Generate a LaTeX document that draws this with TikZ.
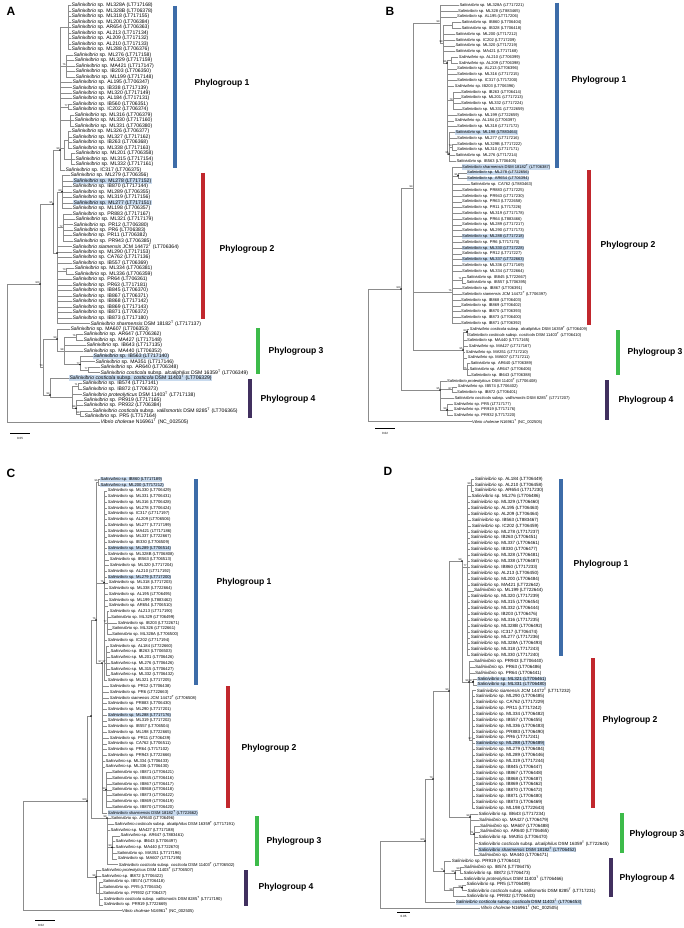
\documentclass[tikz,border=0pt]{standalone}
\usepackage{fontspec}
\setmainfont{Liberation Sans}
\definecolor{pgblue}{HTML}{3D6CA8}
\definecolor{pgred}{HTML}{C1272D}
\definecolor{pggreen}{HTML}{3DBB4A}
\definecolor{pgpurple}{HTML}{41305F}
\definecolor{hlblue}{HTML}{C8DAEE}
\definecolor{branch}{HTML}{8C8C8C}
\newcommand{\salsp}[1]{\textit{Salinivibrio} sp. #1}
\newcommand{\salsn}[2]{\textit{Salinivibrio #1} #2}
\newcommand{\salcos}[2]{\textit{Salinivibrio costicola} subsp. \textit{#1} #2}
\newcommand{\tsup}{\textsuperscript{T}}
\newcommand{\vib}{\textit{Vibrio cholerae} N16961\tsup{} (NC\_002505)}
\newcommand{\ya}[1]{5.5+(#1-1)*5.48}
\newcommand{\yb}[1]{5.3+(#1-1)*5.78}
\newcommand{\yc}[1]{479.3+(#1-1)*5.75}
\newcommand{\yd}[1]{479+(#1-1)*5.88}
\tikzset{
  leaf/.style={anchor=west, inner sep=0.3pt},
  nl/.style={},
  hl/.style={fill=hlblue},
  br/.style={draw=branch, line width=0.45pt},
  bs/.style={anchor=south east, inner sep=0.2pt, font=\fontsize{2.6}{3}\selectfont},
  pgbar/.style={line width=3.3pt},
  pglab/.style={anchor=west, font=\bfseries\fontsize{8.6}{10}\selectfont},
  panel/.style={font=\bfseries\fontsize{12}{14}\selectfont},
  sclab/.style={font=\fontsize{3}{4}\selectfont, inner sep=0.3pt},
}
\begin{document}
\begin{tikzpicture}[x=1pt, y=-1pt]
  \useasboundingbox[fill=white] (0,0) rectangle (684,928);

  % ---------------- panel A ----------------
  \node[panel] (alab) at (11,11) {A};
  \coordinate (aroot) at (7,353);
  \coordinate (a100) at (40,284);
  \coordinate (a95) at (53,204);
  \coordinate (apg1) at (60,150);
  \coordinate (apg1a) at (68,{\ya{5}});
  \coordinate (apg1b) at (66,{\ya{12}});
  \coordinate (apg1c) at (68,{\ya{19.5}});
  \coordinate (apg1d) at (70,{\ya{22}});
  \coordinate (apg1e) at (64,148);
  \coordinate (apg1f) at (68,{\ya{25.5}});
  \coordinate (apg1g) at (71,{\ya{29}});
  \coordinate (apg2) at (57,253);
  \coordinate (apg2a) at (62,{\ya{35}});
  \coordinate (apg2b) at (63,{\ya{41.5}});
  \coordinate (apg2c) at (66,{\ya{49.5}});
  \coordinate (a70) at (43,367);
  \coordinate (apg3) at (57,339);
  \coordinate (apg3a) at (64,351);
  \coordinate (apg3b) at (76,{\ya{61.5}});
  \coordinate (apg3c) at (80,{\ya{66.5}});
  \coordinate (apg3d) at (88,{\ya{67.5}});
  \coordinate (apg4) at (50,395);
  \coordinate (apg4a) at (72,{\ya{72.5}});
  \coordinate (apg4b) at (78,{\ya{70.5}});
  \coordinate (apg4c) at (76,{\ya{74.5}});
  \coordinate (apg4d) at (80,{\ya{75.5}});
  \foreach \p/\c in {aroot/a100, a100/a95, a100/a70, a95/apg1, a95/apg2,
      apg1/apg1a, apg1/apg1b, apg1/apg1c, apg1/apg1d, apg1/apg1e, apg1e/apg1f, apg1e/apg1g,
      apg2/apg2a, apg2/apg2b, apg2/apg2c, a70/apg3, a70/apg4, apg3/apg3a, apg3a/apg3b,
      apg3a/apg3c, apg3c/apg3d, apg4/apg4a, apg4a/apg4b, apg4a/apg4c, apg4c/apg4d}
    \draw[br] (\p) |- (\c);
  \begin{scope}[font=\fontsize{5.1}{6}\selectfont]
  \foreach \p/\lx/\s/\t [count=\i] in {
      apg1a/71/nl/{\salsp{ML328A (LT717168)}},
      apg1a/71/nl/{\salsp{ML328B (LT706378)}},
      apg1a/71/nl/{\salsp{ML318 (LT717155)}},
      apg1a/71/nl/{\salsp{ML200 (LT706384)}},
      apg1a/71/nl/{\salsp{AR654 (LT706363)}},
      apg1a/71/nl/{\salsp{AL213 (LT717134)}},
      apg1a/71/nl/{\salsp{AL209 (LT717132)}},
      apg1a/71/nl/{\salsp{AL210 (LT717133)}},
      apg1a/71/nl/{\salsp{ML288 (LT706376)}},
      apg1b/73/nl/{\salsp{ML276 (LT717158)}},
      apg1b/74/nl/{\salsp{ML329 (LT717159)}},
      apg1b/75/nl/{\salsp{MA421 (LT717147)}},
      apg1b/75/nl/{\salsp{IB203 (LT706350)}},
      apg1b/75/nl/{\salsp{ML199 (LT717148)}},
      apg1/72/nl/{\salsp{AL195 (LT706347)}},
      apg1/72/nl/{\salsp{IB338 (LT717139)}},
      apg1/72/nl/{\salsp{ML320 (LT717149)}},
      apg1/72/nl/{\salsp{AL184 (LT717131)}},
      apg1c/72/nl/{\salsp{IB560 (LT706351)}},
      apg1c/72/nl/{\salsp{IC202 (LT706374)}},
      apg1d/74/nl/{\salsp{ML316 (LT706379)}},
      apg1d/74/nl/{\salsp{ML330 (LT717160)}},
      apg1d/74/nl/{\salsp{ML331 (LT706380)}},
      apg1f/71/nl/{\salsp{ML326 (LT706377)}},
      apg1f/72/nl/{\salsp{ML327 (LT717162)}},
      apg1f/72/nl/{\salsp{IB263 (LT706368)}},
      apg1f/72/nl/{\salsp{ML338 (LT717163)}},
      apg1g/75/nl/{\salsp{ML201 (LT706358)}},
      apg1g/75/nl/{\salsp{ML315 (LT717154)}},
      apg1g/75/nl/{\salsp{ML332 (LT717161)}},
      apg1/65/nl/{\salsp{IC317 (LT706375)}},
      apg2a/70/nl/{\salsp{ML279 (LT706356)}},
      apg2a/73/hl/{\salsp{ML278 (LT717152)}},
      apg2a/72/nl/{\salsp{IB870 (LT717144)}},
      apg2a/72/nl/{\salsp{ML289 (LT706355)}},
      apg2a/72/nl/{\salsp{ML319 (LT717156)}},
      apg2a/73/hl/{\salsp{ML277 (LT717151)}},
      apg2a/72/nl/{\salsp{ML198 (LT706357)}},
      apg2b/72/nl/{\salsp{PR883 (LT717167)}},
      apg2b/75/nl/{\salsp{ML321 (LT717179)}},
      apg2b/73/nl/{\salsp{PR12 (LT706380)}},
      apg2b/73/nl/{\salsp{PR6 (LT706383)}},
      apg2b/72/nl/{\salsp{PR11 (LT706382)}},
      apg2b/73/nl/{\salsp{PR943 (LT706385)}},
      apg2/72/nl/{\salsn{siamensis}{JCM 14472\tsup{} (LT706364)}},
      apg2/72/nl/{\salsp{ML290 (LT717153)}},
      apg2/72/nl/{\salsp{CA762 (LT717136)}},
      apg2/72/nl/{\salsp{IB557 (LT706369)}},
      apg2c/74/nl/{\salsp{ML334 (LT706381)}},
      apg2c/74/nl/{\salsp{ML336 (LT706359)}},
      apg2/72/nl/{\salsp{PR64 (LT706361)}},
      apg2/72/nl/{\salsp{PR63 (LT717181)}},
      apg2/72/nl/{\salsp{IB845 (LT706370)}},
      apg2/72/nl/{\salsp{IB867 (LT706371)}},
      apg2/72/nl/{\salsp{IB868 (LT717142)}},
      apg2/72/nl/{\salsp{IB869 (LT717143)}},
      apg2/72/nl/{\salsp{IB871 (LT706372)}},
      apg2/72/nl/{\salsp{IB873 (LT717180)}},
      apg2/90/nl/{\salsn{sharmensis}{DSM 18182\tsup{} (LT717137)}},
      apg3/70/nl/{\salsp{MA607 (LT706353)}},
      apg3b/83/nl/{\salsp{AR647 (LT706362)}},
      apg3b/83/nl/{\salsp{MA427 (LT717148)}},
      apg3a/86/nl/{\salsp{IB643 (LT717135)}},
      apg3a/83/nl/{\salsp{MA440 (LT706352)}},
      apg3c/93/hl/{\salsp{IB563 (LT717140)}},
      apg3c/95/nl/{\salsp{MA351 (LT717146)}},
      apg3d/100/nl/{\salsp{AR640 (LT706348)}},
      apg3d/100/nl/{\salcos{alcaliphilus}{DSM 16359\tsup{} (LT706349)}},
      apg4/69/hl/{\salcos{costicola}{DSM 11403\tsup{} (LT706329)}},
      apg4b/82/nl/{\salsp{IB574 (LT717141)}},
      apg4b/82/nl/{\salsp{IB872 (LT706373)}},
      apg4a/82/nl/{\salsn{proteolyticus}{DSM 11403\tsup{} (LT717138)}},
      apg4c/83/nl/{\salsp{PR919 (LT717165)}},
      apg4c/83/nl/{\salsp{PR932 (LT706384)}},
      apg4d/92/nl/{\salcos{vallismortis}{DSM 8285\tsup{} (LT706365)}},
      apg4d/84/nl/{\salsp{PR5 (LT717164)}},
      aroot/100/nl/{\vib}}{
    \node[leaf,\s] (la\i) at (\lx,{\ya{\i}}) {\t};
    \draw[br] (\p) |- (la\i.west);
  }
  \end{scope}
  \foreach \c/\v in {a100/100, a95/95, apg1/99, apg1b/76, apg1c/77, apg2a/89, apg2b/72,
      apg2c/70, a70/70, apg3/99, apg3a/98, apg3b/76, apg3c/77, apg3d/77, apg4/94,
      apg4b/71, apg4c/99, apg4d/99}
    \node[bs] at (\c) {\v};
  \foreach \c in {a100, a95, apg1, apg2, apg2a, apg3, apg3c, apg4, apg4c}
    \fill (\c) circle (0.9pt);
  \draw[pgbar, pgblue] (175,6) -- (175,168);
  \draw[pgbar, pgred] (203,173) -- (203,319);
  \draw[pgbar, pggreen] (258,328) -- (258,374);
  \draw[pgbar, pgpurple] (250,379) -- (250,418);
  \node[pglab] (apg1lab) at (191,83) {Phylogroup 1};
  \node[pglab] (apg2lab) at (216,249) {Phylogroup 2};
  \node[pglab] (apg3lab) at (265,351) {Phylogroup 3};
  \node[pglab] (apg4lab) at (257,399) {Phylogroup 4};
  \draw (10,433) -- (30,433);
  \node[sclab] (ascale) at (20,438) {0.05};

  % ---------------- panel B ----------------
  \node[panel] (blab) at (390,11) {B};
  \coordinate (broot) at (368,355);
  \coordinate (b100) at (401,289);
  \coordinate (b94) at (413,188);
  \coordinate (bpg1) at (440,23);
  \coordinate (bpg1a) at (452,{\yb{4.5}});
  \coordinate (bpg1b) at (443,43);
  \coordinate (bpg1c) at (447,63);
  \coordinate (bpg1d) at (451,{\yb{10.5}});
  \coordinate (bpg1e) at (453,{\yb{17.5}});
  \coordinate (bpg1f) at (449,154);
  \coordinate (bpg1g) at (452,{\yb{25.5}});
  \coordinate (bpg2) at (452,292);
  \coordinate (bpg2a) at (458,{\yb{30.5}});
  \coordinate (bpg2b) at (462,{\yb{48.5}});
  \coordinate (bpg3) at (463,350);
  \coordinate (bpg3a) at (467,{\yb{57.5}});
  \coordinate (bpg3b) at (467,{\yb{64}});
  \coordinate (b95) at (440,390);
  \coordinate (bpg4a) at (452,{\yb{67.5}});
  \coordinate (bpg4b) at (447,{\yb{71}});
  \foreach \p/\c in {broot/b100, b100/b94, b100/b95, b94/bpg1, b94/bpg2, b94/bpg3,
      bpg1/bpg1b, bpg1b/bpg1a, bpg1b/bpg1c, bpg1c/bpg1d, bpg1c/bpg1e, bpg1c/bpg1f,
      bpg1f/bpg1g, bpg2/bpg2a, bpg2/bpg2b, bpg3/bpg3a, bpg3/bpg3b, b95/bpg4a, b95/bpg4b}
    \draw[br] (\p) |- (\c);
  \begin{scope}[font=\fontsize{4.05}{5}\selectfont]
  \foreach \p/\lx/\s/\t [count=\i] in {
      bpg1/459/nl/{\salsp{ML328A (LT717221)}},
      bpg1/457.7/nl/{\salsp{ML328 (LT883465)}},
      bpg1/456.7/nl/{\salsp{AL195 (LT717206)}},
      bpg1a/461/nl/{\salsp{IB860 (LT706404)}},
      bpg1a/461/nl/{\salsp{IB328 (LT706418)}},
      bpg1b/455/nl/{\salsp{ML200 (LT717212)}},
      bpg1b/455/nl/{\salsp{IC202 (LT717209)}},
      bpg1b/455/nl/{\salsp{ML320 (LT717219)}},
      bpg1b/455/nl/{\salsp{MA421 (LT717168)}},
      bpg1d/458.3/nl/{\salsp{AL210 (LT706399)}},
      bpg1d/458.3/nl/{\salsp{AL209 (LT706398)}},
      bpg1c/456.7/nl/{\salsp{AL213 (LT706396)}},
      bpg1c/456.7/nl/{\salsp{ML316 (LT717215)}},
      bpg1c/456.7/nl/{\salsp{IC317 (LT717200)}},
      bpg1c/454.3/nl/{\salsp{IB203 (LT706396)}},
      bpg1e/460.7/nl/{\salsp{IB263 (LT706414)}},
      bpg1e/460.7/nl/{\salsp{ML201 (LT717213)}},
      bpg1e/460.7/nl/{\salsp{ML332 (LT717224)}},
      bpg1e/461.7/nl/{\salsp{ML331 (LT722659)}},
      bpg1c/456.7/nl/{\salsp{ML199 (LT722659)}},
      bpg1c/454.3/nl/{\salsp{AL184 (LT706397)}},
      bpg1c/456.7/nl/{\salsp{ML318 (LT717172)}},
      bpg1f/455/hl/{\salsp{ML198 (LT883464)}},
      bpg1f/456.7/nl/{\salsp{ML277 (LT717216)}},
      bpg1g/456.7/nl/{\salsp{ML329B (LT717222)}},
      bpg1g/456.7/nl/{\salsp{ML310 (LT717171)}},
      bpg1f/455/nl/{\salsp{ML276 (LT717214)}},
      bpg1f/456/nl/{\salsp{IB563 (LT706405)}},
      bpg2/461.7/hl/{\salsn{sharmensis}{DSM 18182\tsup{} (LT706387)}},
      bpg2a/466.7/hl/{\salsp{ML278 (LT722656)}},
      bpg2a/466.7/hl/{\salsp{AR654 (LT706394)}},
      bpg2/470/nl/{\salsp{CA762 (LT883463)}},
      bpg2/461.7/nl/{\salsp{PR883 (LT717225)}},
      bpg2/461.7/nl/{\salsp{PR943 (LT717230)}},
      bpg2/461.7/nl/{\salsp{PR63 (LT722658)}},
      bpg2/461.7/nl/{\salsp{PR11 (LT717226)}},
      bpg2/461.7/nl/{\salsp{ML319 (LT717178)}},
      bpg2/461.7/nl/{\salsp{PR64 (LT883466)}},
      bpg2/461.7/nl/{\salsp{ML289 (LT717217)}},
      bpg2/461.7/nl/{\salsp{ML290 (LT717173)}},
      bpg2/461.7/hl/{\salsp{ML288 (LT717218)}},
      bpg2/461.7/nl/{\salsp{PR6 (LT717170)}},
      bpg2/461.7/hl/{\salsp{ML330 (LT717228)}},
      bpg2/461.7/nl/{\salsp{PR12 (LT717227)}},
      bpg2/461.7/hl/{\salsp{ML337 (LT722663)}},
      bpg2/461.7/nl/{\salsp{ML336 (LT717169)}},
      bpg2/461.7/nl/{\salsp{ML334 (LT722664)}},
      bpg2b/466/nl/{\salsp{IB845 (LT722667)}},
      bpg2b/466/nl/{\salsp{IB557 (LT706395)}},
      bpg2/461.7/nl/{\salsp{IB867 (LT706391)}},
      bpg2/461.7/nl/{\salsn{siamensis}{JCM 14472\tsup{} (LT706397)}},
      bpg2/460.7/nl/{\salsp{IB868 (LT706403)}},
      bpg2/460.7/nl/{\salsp{IB869 (LT706402)}},
      bpg2/460.7/nl/{\salsp{IB870 (LT706393)}},
      bpg2/460.7/nl/{\salsp{IB873 (LT706400)}},
      bpg2/460.7/nl/{\salsp{IB871 (LT706392)}},
      bpg3a/469.3/nl/{\salcos{alcaliphilus}{DSM 16359\tsup{} (LT706409)}},
      bpg3a/467.7/nl/{\salcos{costicola}{DSM 11403\tsup{} (LT706410)}},
      bpg3/466.7/nl/{\salsp{MA440 (LT717165)}},
      bpg3/468.3/nl/{\salsp{MA427 (LT717167)}},
      bpg3/465.3/nl/{\salsp{MA351 (LT717210)}},
      bpg3/467.3/nl/{\salsp{MA607 (LT717211)}},
      bpg3b/470/nl/{\salsp{AR640 (LT706389)}},
      bpg3b/469/nl/{\salsp{AR647 (LT706406)}},
      bpg3b/470.7/nl/{\salsp{IB643 (LT706388)}},
      b95/446.7/nl/{\salsn{proteolyticus}{DSM 11403\tsup{} (LT706408)}},
      bpg4a/457.3/nl/{\salsp{IB574 (LT706402)}},
      bpg4a/456.7/nl/{\salsp{IB872 (LT706401)}},
      b95/454/nl/{\salcos{vallismortis}{DSM 8285\tsup{} (LT717207)}},
      bpg4b/453.3/nl/{\salsp{PR5 (LT717177)}},
      bpg4b/453.3/nl/{\salsp{PR919 (LT717176)}},
      bpg4b/453.3/nl/{\salsp{PR932 (LT717220)}},
      broot/471.7/nl/{\vib}}{
    \node[leaf,\s] (lb\i) at (\lx,{\yb{\i}}) {\t};
    \draw[br] (\p) |- (lb\i.west);
  }
  \end{scope}
  \foreach \c/\v in {b100/100, b94/94, bpg1/99, bpg1b/99, bpg1c/86, bpg1e/79, bpg1f/95,
      bpg1g/73, bpg2/76, bpg2a/96, bpg2b/71, bpg3/95, bpg3a/83, bpg3b/75, b95/95,
      bpg4a/87, bpg4b/99}
    \node[bs] at (\c) {\v};
  \foreach \c in {b100, bpg1c, bpg1f, bpg2a, bpg3, bpg3a, b95, bpg4b}
    \fill (\c) circle (0.9pt);
  \draw[pgbar, pgblue] (557,3) -- (557,168);
  \draw[pgbar, pgred] (589,170) -- (589,325);
  \draw[pgbar, pggreen] (618,330) -- (618,375);
  \draw[pgbar, pgpurple] (607,380) -- (607,420);
  \node[pglab] (bpg1lab) at (568,80) {Phylogroup 1};
  \node[pglab] (bpg2lab) at (597,245) {Phylogroup 2};
  \node[pglab] (bpg3lab) at (624,352) {Phylogroup 3};
  \node[pglab] (bpg4lab) at (615,400) {Phylogroup 4};
  \draw (375,428) -- (395,428);
  \node[sclab] (bscale) at (385,433) {0.02};

  % ---------------- panel C ----------------
  \node[panel] (clab) at (11,473) {C};
  \coordinate (croot) at (23,856);
  \coordinate (c100) at (87,801);
  \coordinate (cA) at (91,716);
  \coordinate (c76) at (96,620);
  \coordinate (cpg1a) at (98,{\yc{1.5}});
  \coordinate (cpg1) at (104,{\yc{19}});
  \coordinate (cpg1b) at (107,{\yc{26}});
  \coordinate (cpg1c) at (106,{\yc{33}});
  \coordinate (c97) at (102,663);
  \coordinate (cpg2a) at (106,{\yc{55}});
  \coordinate (c99) at (107,818);
  \coordinate (cpg3a) at (112,{\yc{65}});
  \coordinate (c98) at (96,877);
  \coordinate (cpg4a) at (99,{\yc{73}});
  \foreach \p/\c in {croot/c100, c100/cA, c100/c98, cA/c76, cA/c99, c76/cpg1a, c76/cpg1,
      c76/c97, cpg1/cpg1b, cpg1/cpg1c, c97/cpg2a, c99/cpg3a, c98/cpg4a}
    \draw[br] (\p) |- (\c);
  \begin{scope}[font=\fontsize{4.15}{5}\selectfont]
  \foreach \p/\lx/\s/\t [count=\i] in {
      cpg1a/100/hl/{\salsp{IB860 (LT717189)}},
      cpg1a/100/hl/{\salsp{ML200 (LT717212)}},
      cpg1/107.3/nl/{\salsp{ML330 (LT706429)}},
      cpg1/107.3/nl/{\salsp{ML331 (LT706431)}},
      cpg1/107.3/nl/{\salsp{ML316 (LT706428)}},
      cpg1/107.3/nl/{\salsp{ML278 (LT706424)}},
      cpg1/107.3/nl/{\salsp{IC317 (LT717197)}},
      cpg1/107.3/nl/{\salsp{AL209 (LT706506)}},
      cpg1/107.3/nl/{\salsp{ML277 (LT717199)}},
      cpg1/107.3/nl/{\salsp{MA421 (LT717186)}},
      cpg1/107.3/nl/{\salsp{ML337 (LT722667)}},
      cpg1/107.3/nl/{\salsp{IB330 (LT706509)}},
      cpg1/107.3/hl/{\salsp{ML289 (LT706514)}},
      cpg1/107.3/nl/{\salsp{ML328B (LT706808)}},
      cpg1/109.3/nl/{\salsp{IB563 (LT706513)}},
      cpg1/109.3/nl/{\salsp{ML320 (LT717204)}},
      cpg1/107.3/nl/{\salsp{AL210 (LT717192)}},
      cpg1/107.3/hl/{\salsp{ML279 (LT717200)}},
      cpg1/108.3/nl/{\salsp{ML318 (LT717203)}},
      cpg1/108.3/nl/{\salsp{ML338 (LT722664)}},
      cpg1/108.3/nl/{\salsp{AL195 (LT706495)}},
      cpg1/108.3/nl/{\salsp{ML199 (LT883462)}},
      cpg1/108.3/nl/{\salsp{AR654 (LT706510)}},
      cpg1b/109.3/nl/{\salsp{AL213 (LT717190)}},
      cpg1b/110.7/nl/{\salsp{ML329 (LT706499)}},
      cpg1b/117.3/nl/{\salsp{IB203 (LT722671)}},
      cpg1b/111.7/nl/{\salsp{ML326 (LT722661)}},
      cpg1b/111.7/nl/{\salsp{ML328A (LT706500)}},
      cpg1/107.3/nl/{\salsp{IC202 (LT717194)}},
      cpg1c/109.3/nl/{\salsp{AL184 (LT722660)}},
      cpg1c/110/nl/{\salsp{IB263 (LT706503)}},
      cpg1c/110/nl/{\salsp{ML201 (LT706426)}},
      cpg1c/110/nl/{\salsp{ML276 (LT706426)}},
      cpg1c/110/nl/{\salsp{ML315 (LT706427)}},
      cpg1c/110/nl/{\salsp{ML332 (LT706432)}},
      cpg1/107.3/nl/{\salsp{ML321 (LT717205)}},
      c97/109.3/nl/{\salsp{PR12 (LT706438)}},
      c97/109.3/nl/{\salsp{PR6 (LT722663)}},
      c97/109.3/nl/{\salsn{siamensis}{JCM 14472\tsup{} (LT706508)}},
      c97/107.3/nl/{\salsp{PR883 (LT706430)}},
      c97/107.3/nl/{\salsp{ML290 (LT717201)}},
      c97/107.3/hl/{\salsp{ML288 (LT717176)}},
      c97/107.3/nl/{\salsp{ML319 (LT717202)}},
      c97/107.3/nl/{\salsp{IB557 (LT706504)}},
      c97/107.3/nl/{\salsp{ML198 (LT722665)}},
      c97/109.3/nl/{\salsp{PR11 (LT706439)}},
      c97/107.3/nl/{\salsp{CA762 (LT706511)}},
      c97/107.3/nl/{\salsp{PR64 (LT717102)}},
      c97/107.3/nl/{\salsp{PR943 (LT722666)}},
      c97/105/nl/{\salsp{ML334 (LT706433)}},
      c97/105/nl/{\salsp{ML336 (LT706430)}},
      cpg2a/111.7/nl/{\salsp{IB871 (LT706421)}},
      cpg2a/111.7/nl/{\salsp{IB845 (LT706416)}},
      cpg2a/111.7/nl/{\salsp{IB867 (LT706417)}},
      cpg2a/111.7/nl/{\salsp{IB868 (LT706418)}},
      cpg2a/111.7/nl/{\salsp{IB873 (LT706422)}},
      cpg2a/111.7/nl/{\salsp{IB869 (LT706419)}},
      cpg2a/111.7/nl/{\salsp{IB870 (LT706420)}},
      c97/107.3/hl/{\salsn{sharmensis}{DSM 18182\tsup{} (LT722662)}},
      c99/110.7/nl/{\salsp{AR640 (LT706496)}},
      c99/114/nl/{\salcos{alcaliphilus}{DSM 16359\tsup{} (LT717191)}},
      c99/110/nl/{\salsp{MA427 (LT717188)}},
      cpg3a/120/nl/{\salsp{AR647 (LT883461)}},
      cpg3a/115/nl/{\salsp{IB643 (LT706497)}},
      cpg3a/115/nl/{\salsp{MA440 (LT722670)}},
      cpg3a/116.7/nl/{\salsp{MA351 (LT717196)}},
      cpg3a/117.3/nl/{\salsp{MA607 (LT717195)}},
      c99/118.3/nl/{\salcos{costicola}{DSM 11403\tsup{} (LT706502)}},
      c98/101/nl/{\salsn{proteolyticus}{DSM 11403\tsup{} (LT706507)}},
      c98/101/nl/{\salsp{IB872 (LT706422)}},
      cpg4a/102.7/nl/{\salsp{IB574 (LT706418)}},
      cpg4a/102.7/nl/{\salsp{PR5 (LT706434)}},
      cpg4a/102.7/nl/{\salsp{PR932 (LT706437)}},
      cpg4a/103.3/nl/{\salcos{vallismortis}{DSM 8285\tsup{} (LT717190)}},
      cpg4a/103.3/nl/{\salsp{PR919 (LT722669)}},
      croot/121.7/nl/{\vib}}{
    \node[leaf,\s] (lc\i) at (\lx,{\yc{\i}}) {\t};
    \draw[br] (\p) |- (lc\i.west);
  }
  \end{scope}
  \foreach \c/\v in {c100/100, c76/76, cpg1a/96, cpg1/76, cpg1b/77, cpg1c/97, c97/97,
      cpg2a/93, c99/99, cpg3a/93, c98/98}
    \node[bs] at (\c) {\v};
  \foreach \c in {c100, cA, c76, cpg1, c97, cpg2a, c99, cpg3a, c98}
    \fill (\c) circle (0.9pt);
  \draw[pgbar, pgblue] (196,479) -- (196,685);
  \draw[pgbar, pgred] (228,686) -- (228,808);
  \draw[pgbar, pggreen] (257,816) -- (257,866);
  \draw[pgbar, pgpurple] (246,870) -- (246,906);
  \node[pglab] (cpg1lab) at (213,582) {Phylogroup 1};
  \node[pglab] (cpg2lab) at (238,748) {Phylogroup 2};
  \node[pglab] (cpg3lab) at (263,841) {Phylogroup 3};
  \node[pglab] (cpg4lab) at (255,887) {Phylogroup 4};
  \draw (35,920) -- (55,920);
  \node[sclab] (cscale) at (41,925) {0.02};

  % ---------------- panel D ----------------
  \node[panel] (dlab) at (388,471) {D};
  \coordinate (droot) at (380,874.5);
  \coordinate (d100) at (425,841);
  \coordinate (d70) at (433,779);
  \coordinate (d99) at (449,691);
  \coordinate (d99b) at (462,561);
  \coordinate (dpg1) at (467,{\yd{16}});
  \coordinate (dpg1a) at (471,{\yd{2}});
  \coordinate (dpg2) at (469,682);
  \coordinate (dpg2a) at (473,{\yd{35.5}});
  \coordinate (dpg2b) at (472,740);
  \coordinate (dpg3) at (470,817);
  \coordinate (dpg3a) at (474,834);
  \coordinate (d71) at (444,871);
  \coordinate (dpg4a) at (455,{\yd{68}});
  \coordinate (dpg4b) at (460,{\yd{67.5}});
  \coordinate (dpg4c) at (453,{\yd{71}});
  \coordinate (dpg4d) at (462,{\yd{70.5}});
  \foreach \p/\c in {droot/d100, d100/d70, d70/d99, d70/d71, d99/d99b, d99/dpg3,
      d99b/dpg1, d99b/dpg2, dpg1/dpg1a, dpg2/dpg2a, dpg2/dpg2b, dpg3/dpg3a,
      d71/dpg4a, d71/dpg4c, dpg4a/dpg4b, dpg4c/dpg4d}
    \draw[br] (\p) |- (\c);
  \begin{scope}[font=\fontsize{4.5}{5.5}\selectfont]
  \foreach \p/\lx/\s/\t [count=\i] in {
      dpg1a/474.3/nl/{\salsp{AL184 (LT706449)}},
      dpg1a/474.3/nl/{\salsp{AL210 (LT706458)}},
      dpg1a/474.3/nl/{\salsp{AR654 (LT717230)}},
      dpg1/471/nl/{\salsp{ML276 (LT706486)}},
      dpg1/470.3/nl/{\salsp{ML329 (LT706460)}},
      dpg1/470.3/nl/{\salsp{AL195 (LT706463)}},
      dpg1/470.3/nl/{\salsp{AL209 (LT706464)}},
      dpg1/471.3/nl/{\salsp{IB563 (LT883467)}},
      dpg1/471.3/nl/{\salsp{IC202 (LT706459)}},
      dpg1/470.3/nl/{\salsp{ML278 (LT717237)}},
      dpg1/470.3/nl/{\salsp{IB263 (LT706451)}},
      dpg1/470.3/nl/{\salsp{ML337 (LT706461)}},
      dpg1/470.3/nl/{\salsp{IB330 (LT706477)}},
      dpg1/470.3/nl/{\salsp{ML328 (LT706481)}},
      dpg1/470.3/nl/{\salsp{ML338 (LT706487)}},
      dpg1/470.3/nl/{\salsp{IB860 (LT717233)}},
      dpg1/470.3/nl/{\salsp{AL213 (LT706450)}},
      dpg1/470.3/nl/{\salsp{ML200 (LT706484)}},
      dpg1/470.3/nl/{\salsp{MA421 (LT722642)}},
      dpg1/473.7/nl/{\salsp{ML199 (LT722644)}},
      dpg1/470.3/nl/{\salsp{ML320 (LT717239)}},
      dpg1/470.3/nl/{\salsp{ML315 (LT706454)}},
      dpg1/470.3/nl/{\salsp{ML332 (LT706444)}},
      dpg1/470.3/nl/{\salsp{IB203 (LT706476)}},
      dpg1/470.3/nl/{\salsp{ML316 (LT717235)}},
      dpg1/470.3/nl/{\salsp{ML328B (LT706492)}},
      dpg1/470.3/nl/{\salsp{IC317 (LT706474)}},
      dpg1/470.3/nl/{\salsp{ML277 (LT717236)}},
      dpg1/470.3/nl/{\salsp{ML328A (LT706493)}},
      dpg1/470.3/nl/{\salsp{ML318 (LT717243)}},
      dpg1/470.3/nl/{\salsp{ML330 (LT717240)}},
      dpg2/473.7/nl/{\salsp{PR943 (LT706440)}},
      dpg2/474.7/nl/{\salsp{PR63 (LT706486)}},
      dpg2/474.7/nl/{\salsp{PR64 (LT706441)}},
      dpg2a/477/hl/{\salsp{ML321 (LT706461)}},
      dpg2a/477/hl/{\salsp{ML331 (LT706480)}},
      dpg2b/476.3/nl/{\salsn{siamensis}{JCM 14472\tsup{} (LT717232)}},
      dpg2b/475.3/nl/{\salsp{ML290 (LT706485)}},
      dpg2b/475.3/nl/{\salsp{CA762 (LT717229)}},
      dpg2b/475.3/nl/{\salsp{PR11 (LT717242)}},
      dpg2b/475.3/nl/{\salsp{ML334 (LT706482)}},
      dpg2b/475.3/nl/{\salsp{IB557 (LT706455)}},
      dpg2b/475.3/nl/{\salsp{ML336 (LT706483)}},
      dpg2b/475.3/nl/{\salsp{PR883 (LT706490)}},
      dpg2b/475.3/nl/{\salsp{PR6 (LT717241)}},
      dpg2b/475.3/hl/{\salsp{ML288 (LT706489)}},
      dpg2b/475.3/nl/{\salsp{ML279 (LT706484)}},
      dpg2b/475.3/nl/{\salsp{ML289 (LT706446)}},
      dpg2b/475.3/nl/{\salsp{ML319 (LT717244)}},
      dpg2b/475.3/nl/{\salsp{IB845 (LT706447)}},
      dpg2b/475.3/nl/{\salsp{IB867 (LT706448)}},
      dpg2b/475.3/nl/{\salsp{IB868 (LT706487)}},
      dpg2b/475.3/nl/{\salsp{IB869 (LT706462)}},
      dpg2b/475.3/nl/{\salsp{IB870 (LT706472)}},
      dpg2b/475.3/nl/{\salsp{IB871 (LT706480)}},
      dpg2b/475.3/nl/{\salsp{IB873 (LT706469)}},
      dpg2b/475.3/nl/{\salsp{ML198 (LT722643)}},
      dpg3/478/nl/{\salsp{IB643 (LT717234)}},
      dpg3/478.7/nl/{\salsp{MA427 (LT706479)}},
      dpg3a/479.7/nl/{\salsp{MA607 (LT706488)}},
      dpg3a/479.7/nl/{\salsp{AR640 (LT706465)}},
      dpg3a/478/nl/{\salsp{MA351 (LT706470)}},
      dpg3a/478/nl/{\salcos{alcaliphilus}{DSM 16359\tsup{} (LT722645)}},
      dpg3a/478/hl/{\salsn{sharmensis}{DSM 18182\tsup{} (LT706452)}},
      dpg3a/478.7/nl/{\salsp{MA440 (LT706471)}},
      d71/451.3/nl/{\salsp{PR919 (LT706442)}},
      dpg4b/463.7/nl/{\salsp{IB574 (LT706475)}},
      dpg4b/463/nl/{\salsp{IB872 (LT706473)}},
      dpg4a/463/nl/{\salsn{proteolyticus}{DSM 11403\tsup{} (LT706466)}},
      dpg4d/466/nl/{\salsp{PR5 (LT706489)}},
      dpg4d/467/nl/{\salcos{vallismortis}{DSM 8285\tsup{} (LT717231)}},
      dpg4c/466/nl/{\salsp{PR932 (LT706443)}},
      d100/455.3/hl/{\salcos{costicola}{DSM 11403\tsup{} (LT706453)}},
      droot/480.3/nl/{\vib}}{
    \node[leaf,\s] (ld\i) at (\lx,{\yd{\i}}) {\t};
    \draw[br] (\p) |- (ld\i.west);
  }
  \end{scope}
  \foreach \c/\v in {d100/100, d70/70, d99/99, d99b/99, dpg1a/99, dpg1/77, dpg2/99,
      dpg2a/87, dpg2b/97, dpg3/99, dpg3a/71, d71/71, dpg4a/99, dpg4b/99, dpg4c/99, dpg4d/99}
    \node[bs] at (\c) {\v};
  \foreach \c in {d100, d70, d99, d99b, dpg2, dpg2a, dpg3, dpg3a, d71, dpg4a, dpg4d}
    \fill (\c) circle (0.9pt);
  \draw[pgbar, pgblue] (561,479) -- (561,656);
  \draw[pgbar, pgred] (593,658) -- (593,808);
  \draw[pgbar, pggreen] (622,813) -- (622,853);
  \draw[pgbar, pgpurple] (611,858) -- (611,897);
  \node[pglab] (dpg1lab) at (570,564) {Phylogroup 1};
  \node[pglab] (dpg2lab) at (599,720) {Phylogroup 2};
  \node[pglab] (dpg3lab) at (626,834) {Phylogroup 3};
  \node[pglab] (dpg4lab) at (616,878) {Phylogroup 4};
  \draw (397,912) -- (410,912);
  \node[sclab] (dscale) at (403.5,916) {0.05};
\end{tikzpicture}
\end{document}
